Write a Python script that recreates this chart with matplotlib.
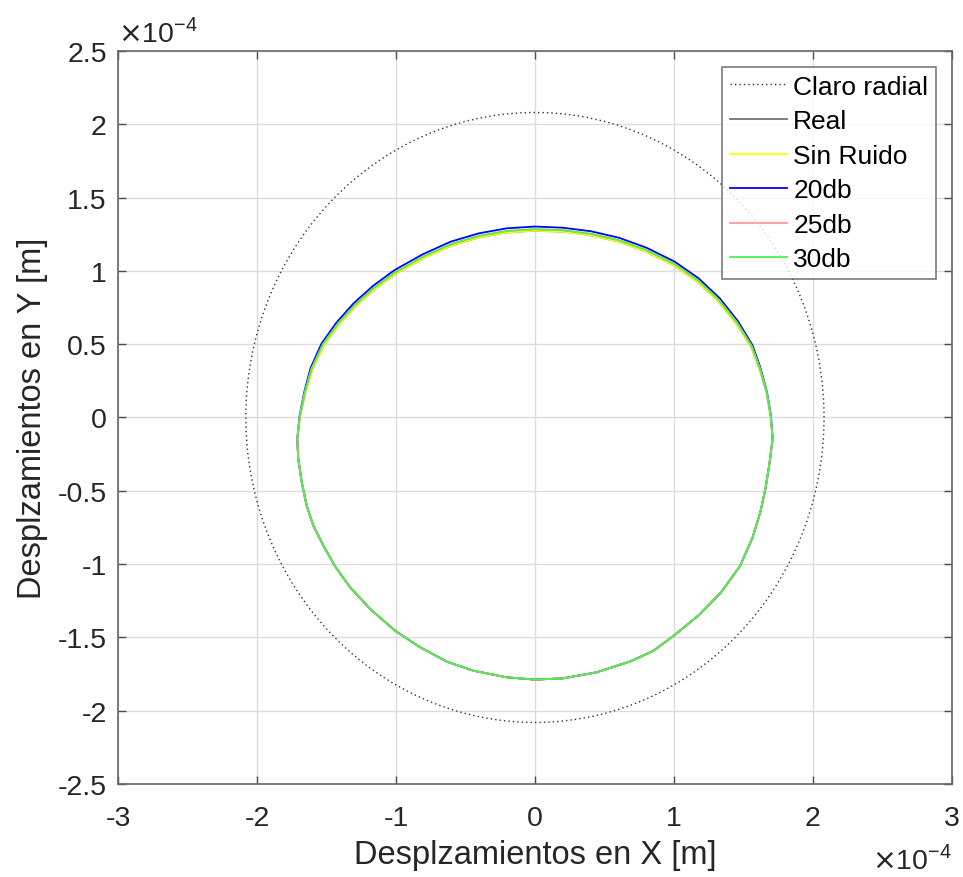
import numpy as np
from matplotlib import pyplot as plt
from matplotlib.ticker import MultipleLocator, FuncFormatter

plt.rcParams['font.family'] = ['Liberation Sans', 'DejaVu Sans']
plt.rcParams['axes.unicode_minus'] = False

# values in units of 1e-4 m
claro_radio = 2.08

# lower arc, common to all the series (left -> bottom -> right)
x_low = [-1.710, -1.703, -1.678, -1.643, -1.595, -1.523, -1.439, -1.331,
         -1.187, -1.007, -0.827, -0.635, -0.444, -0.204, 0.000, 0.204,
         0.444, 0.683, 0.851, 1.000, 1.178, 1.337, 1.475, 1.565, 1.622,
         1.658, 1.687, 1.710]
y_low = [-0.145, -0.282, -0.441, -0.600, -0.737, -0.873, -1.014, -1.157,
         -1.305, -1.454, -1.567, -1.665, -1.727, -1.772, -1.788, -1.779,
         -1.738, -1.665, -1.592, -1.488, -1.349, -1.195, -1.014, -0.821,
         -0.644, -0.487, -0.316, -0.145]

# upper arc (right -> top -> left)
x_up_30 = [1.696, 1.667, 1.619, 1.559, 1.452, 1.322, 1.170, 1.000, 0.800,
           0.600, 0.400, 0.200, 0.000, -0.201, -0.401, -0.602, -0.803,
           -1.002, -1.155, -1.294, -1.419, -1.527, -1.607, -1.655, -1.691]
y_up_30 = [0.014, 0.174, 0.333, 0.488, 0.650, 0.803, 0.938, 1.049, 1.142,
           1.210, 1.253, 1.277, 1.284, 1.272, 1.239, 1.183, 1.097,
           0.991, 0.886, 0.769, 0.638, 0.497, 0.333, 0.174, 0.014]

x_up_20 = [1.698, 1.669, 1.623, 1.565, 1.460, 1.330, 1.177, 1.006, 0.804,
           0.603, 0.402, 0.201, 0.000, -0.202, -0.403, -0.606, -0.809,
           -1.010, -1.164, -1.304, -1.429, -1.536, -1.614, -1.659, -1.693]
y_up_20 = [0.014, 0.175, 0.336, 0.493, 0.657, 0.812, 0.949, 1.062, 1.157,
           1.226, 1.270, 1.294, 1.302, 1.290, 1.256, 1.199, 1.112,
           1.005, 0.898, 0.779, 0.646, 0.503, 0.337, 0.176, 0.014]

x_up_sr = [1.695, 1.665, 1.616, 1.555, 1.446, 1.316, 1.164, 0.995, 0.797,
           0.598, 0.399, 0.199, 0.000, -0.200, -0.399, -0.599, -0.798,
           -0.996, -1.148, -1.287, -1.412, -1.519, -1.601, -1.651, -1.689]
y_up_sr = [0.014, 0.173, 0.331, 0.484, 0.644, 0.796, 0.930, 1.040, 1.132,
           1.200, 1.243, 1.267, 1.274, 1.262, 1.229, 1.173, 1.088,
           0.983, 0.879, 0.763, 0.632, 0.492, 0.330, 0.172, 0.014]


def closed(x_up, y_up):
    return [x_low[-1]] + x_up + x_low, [y_low[-1]] + y_up + y_low


x_30, y_30 = closed(x_up_30, y_up_30)
x_20, y_20 = closed(x_up_20, y_up_20)
x_sr, y_sr = closed(x_up_sr, y_up_sr)

fig = plt.figure(figsize=(9.63, 8.78), dpi=100)
ax = fig.add_axes([0.1225, 0.1059, 0.866, 0.835])

th = np.linspace(0, 2*np.pi, 400)
ax.plot(claro_radio*np.cos(th), claro_radio*np.sin(th), color='0.2',
        ls=(0, (1, 2.2)), lw=1.0, label='Claro radial')
kw = dict(lw=1.3, solid_joinstyle='round')
ax.plot(x_sr, y_sr, color='0.45', label='Real', **kw)
ax.plot(x_sr, y_sr, color=(1, 1, 0), label='Sin Ruido', **kw)
ax.plot(x_20, y_20, color=(0, 0, 1), label='20db', **kw)
ax.plot(x_30, y_30, color=(1, 0.6, 0.6), label='25db', **kw)
ax.plot(x_30, y_30, color=(0.3, 0.95, 0.3), label='30db', **kw)

ax.set_xlim(-3, 3)
ax.set_ylim(-2.5, 2.5)
ax.xaxis.set_major_locator(MultipleLocator(1))
ax.yaxis.set_major_locator(MultipleLocator(0.5))
fmt = FuncFormatter(lambda v, p: '%g' % v)
ax.xaxis.set_major_formatter(fmt)
ax.yaxis.set_major_formatter(fmt)
ax.grid(True, color='#dcdcdc', lw=1)
ax.set_axisbelow(True)
ax.tick_params(direction='in', length=6, width=1, color='0.3',
               top=True, right=True, labelsize=20.5, labelcolor='0.15')
ax.tick_params(axis='x', pad=15)
ax.tick_params(axis='y', pad=8)
for s in ax.spines.values():
    s.set_color('0.4')
    s.set_linewidth(1.2)

ax.set_xlabel('Desplzamientos en X [m]', fontsize=23.5, color='0.15', labelpad=6)
ax.set_ylabel('Desplzamientos en Y [m]', fontsize=23.5, color='0.15', labelpad=7)

ax.text(0.0, 1.005, r'$\times$10$^{\mathregular{-4}}$', transform=ax.transAxes,
        fontsize=20.5, color='0.15', ha='left', va='bottom')
ax.text(1.0, -0.083, r'$\times$10$^{\mathregular{-4}}$', transform=ax.transAxes,
        fontsize=20.5, color='0.15', ha='right', va='top')

leg = ax.legend(loc='upper right', fontsize=19, frameon=True, fancybox=False,
                edgecolor='0.35', borderaxespad=0.6, handlelength=2.15,
                handletextpad=0.25, labelspacing=0.4, borderpad=0.3)
leg.get_frame().set_linewidth(1.2)

fig.savefig('out.png', dpi=100)
